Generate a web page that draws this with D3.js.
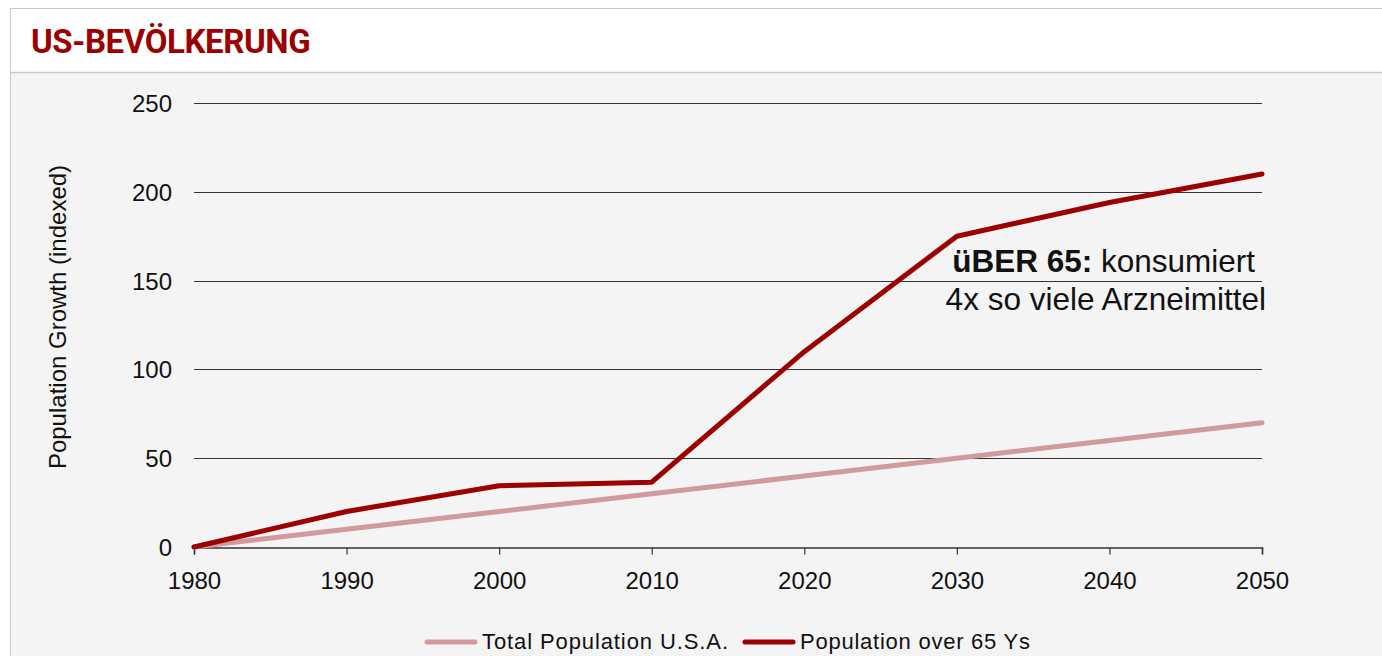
<!DOCTYPE html>
<html>
<head>
<meta charset="utf-8">
<script src="https://cdn.jsdelivr.net/npm/d3@7"></script>
<style>
  html, body { margin: 0; padding: 0; background: #ffffff; }
  svg { display: block; }
</style>
</head>
<body>
<svg id="chart" width="1382" height="656"></svg>
<script>
// Decades on the x axis
const years = [1980, 1990, 2000, 2010, 2020, 2030, 2040, 2050];
// Indexed growth of the total US population
const totalPopulation = [0, 10, 20, 30, 40, 50, 60, 70];
// Indexed growth of the population aged 65 and over
const over65 = [0, 20, 34.5, 36.5, 110, 175, 194, 210];
// Y axis ticks
const yTicks = [0, 50, 100, 150, 200, 250];
const seriesNames = ["Total Population U.S.A.", "Population over 65 Ys"];
const seriesColors = ["#d29a9c", "#9c0000"];

const svg = d3.select("#chart");
const W = 1382, H = 656;

// Panel: white header and light grey body
svg.append("rect").attr("x", 10.5).attr("y", 8.5).attr("width", W).attr("height", H)
  .attr("fill", "#f4f4f4").attr("stroke", "#c8c8c8").attr("stroke-width", 1);
svg.append("rect").attr("x", 11).attr("y", 9).attr("width", W).attr("height", 63)
  .attr("fill", "#ffffff");
svg.append("line").attr("x1", 11).attr("x2", W).attr("y1", 72.5).attr("y2", 72.5)
  .attr("stroke", "#c8c8c8").attr("stroke-width", 1.5);

svg.append("text").attr("x", 31).attr("y", 53)
  .attr("font-family", "Roboto, 'Liberation Sans', sans-serif")
  .attr("font-weight", "bold").attr("font-size", 33).attr("letter-spacing", -0.4)
  .attr("fill", "#9c0000").text("US-BEVÖLKERUNG");

const x = d3.scaleLinear().domain([1980, 2050]).range([194, 1262]);
const y = d3.scaleLinear().domain([0, 250]).range([547, 103]);

const font = "'Liberation Sans', Arial, sans-serif";

// Horizontal gridlines
svg.append("g").selectAll("line").data(yTicks.filter(d => d > 0)).join("line")
  .attr("x1", x(1980)).attr("x2", x(2050))
  .attr("y1", d => Math.round(y(d)) + 0.5).attr("y2", d => Math.round(y(d)) + 0.5)
  .attr("stroke", "#333").attr("stroke-width", 1);

// Y axis labels
svg.append("g").selectAll("text").data(yTicks).join("text")
  .attr("x", 172).attr("y", d => y(d) + 9)
  .attr("text-anchor", "end").attr("font-family", font).attr("font-size", 24)
  .attr("fill", "#111").text(d => d);

// X axis
const xAxis = d3.axisBottom(x).tickValues(years).tickFormat(d3.format("d"))
  .tickSize(7).tickPadding(17);
const gx = svg.append("g").attr("transform", `translate(0,${Math.round(y(0)) + 0.5})`).call(xAxis);
gx.select(".domain").attr("stroke", "#333").attr("stroke-width", 1.5);
gx.selectAll(".tick line").attr("stroke", "#333").attr("stroke-width", 1.2);
gx.selectAll(".tick text").attr("font-family", font).attr("font-size", 24).attr("fill", "#111");

// Y axis title
svg.append("text")
  .attr("transform", `translate(66,317) rotate(-90)`)
  .attr("text-anchor", "middle").attr("font-family", font).attr("font-size", 24)
  .attr("fill", "#111").text("Population Growth (indexed)");

// Lines
const line = d3.line().x((d, i) => x(years[i])).y(d => y(d));
[totalPopulation, over65].forEach((s, k) => {
  svg.append("path").datum(s).attr("d", line)
    .attr("fill", "none").attr("stroke", seriesColors[k])
    .attr("stroke-width", 5).attr("stroke-linejoin", "round").attr("stroke-linecap", "round");
});

// Annotation
const ann = svg.append("text").attr("text-anchor", "end")
  .attr("font-family", font).attr("font-size", 31.5).attr("fill", "#111");
const l1 = ann.append("tspan").attr("x", 1255).attr("y", 272);
l1.append("tspan").attr("font-weight", "bold").text("üBER 65:");
l1.append("tspan").text(" konsumiert");
ann.append("tspan").attr("x", 1266).attr("y", 310).text("4x so viele Arzneimittel");

// Legend
const legend = [
  { x1: 427, x2: 475, tx: 482, w: 246 },
  { x1: 745, x2: 793, tx: 800, w: 230 }
];
legend.forEach((p, k) => {
  svg.append("line").attr("x1", p.x1).attr("x2", p.x2).attr("y1", 642).attr("y2", 642)
    .attr("stroke", seriesColors[k]).attr("stroke-width", 5).attr("stroke-linecap", "round");
  svg.append("text").attr("x", p.tx).attr("y", 649)
    .attr("font-family", font).attr("font-size", 22)
    .attr("textLength", p.w).attr("lengthAdjust", "spacing")
    .attr("fill", "#111").text(seriesNames[k]);
});
</script>
</body>
</html>
